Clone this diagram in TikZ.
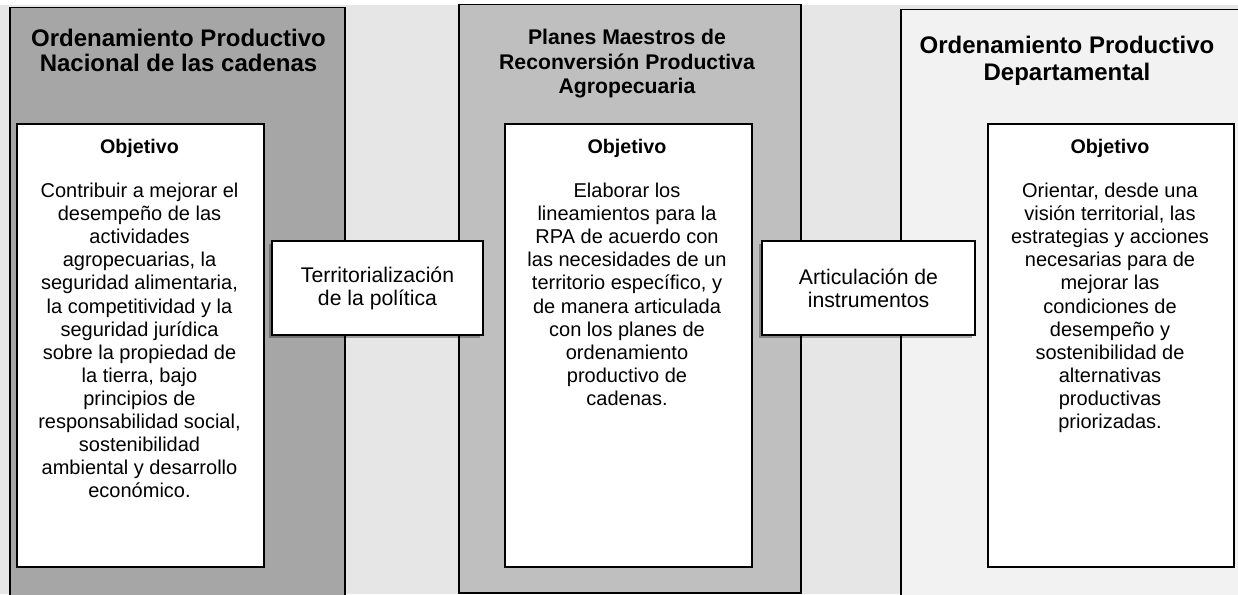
\documentclass[tikz,border=0pt]{standalone}
\usepackage{fontspec}
\setmainfont{Liberation Sans}
\usetikzlibrary{shadows}
\definecolor{bgc}{HTML}{E6E6E6}
\definecolor{pone}{HTML}{A6A6A6}
\definecolor{ptwo}{HTML}{BFBFBF}
\definecolor{pthree}{HTML}{F2F2F2}
\newcommand{\mlines}[1]{\begin{tabular}[t]{@{}c@{}}#1\end{tabular}}
\begin{document}
\begin{tikzpicture}[x=1pt,y=-1pt,
  panel/.style={draw=black, line width=1.5pt, anchor=north west, inner sep=0pt},
  whitebox/.style={draw=black, line width=1.5pt, fill=white, anchor=north west, inner sep=0pt, minimum width=247pt, minimum height=443pt},
  ptitle/.style={font=\bfseries\fontsize{24}{25}\selectfont, anchor=base, inner sep=0pt},
  objt/.style={font=\bfseries\fontsize{19.7}{23}\selectfont, anchor=base, inner sep=0pt},
  body/.style={font=\fontsize{20}{23.1}\selectfont, anchor=base, inner sep=0pt},
  linkbox/.style={draw=black, line width=1.5pt, fill=white, inner sep=0pt, minimum height=94pt,
     font=\fontsize{21.2}{23.1}\selectfont, align=center,
     drop shadow={shadow xshift=-3pt, shadow yshift=-3pt, fill=black, opacity=0.3}}
]
\useasboundingbox (0,0) rectangle (1238,594);
\clip (0,0) rectangle (1238,594);
\fill[white] (0,0) rectangle (1238,594);
\fill[bgc] (0,5) rectangle (1238,594);

% panels
\node[panel, fill=pone, minimum width=335pt, minimum height=620pt] (p1) at (9,7) {};
\node[panel, fill=ptwo, minimum width=342pt, minimum height=588pt] (p2) at (458,4) {};
\node[panel, fill=pthree, minimum width=360pt, minimum height=620pt] (p3) at (900,9) {};

% titles
\node[ptitle] (t1) at (178.5,46) {\mlines{Ordenamiento Productivo\\Nacional de las cadenas}};
\node[ptitle, font=\bfseries\fontsize{21.2}{24.5}\selectfont] (t2) at (627,45) {\mlines{Planes Maestros de\\Reconversión Productiva\\Agropecuaria}};
\node[ptitle, font=\bfseries\fontsize{24}{27}\selectfont] (t3) at (1067,53) {\mlines{Ordenamiento Productivo\\Departamental}};

% white boxes
\node[whitebox] (b1) at (16,123) {};
\node[whitebox] (b2) at (504,123) {};
\node[whitebox, minimum width=246pt] (b3) at (987,123) {};

\node[objt] (o1) at (139.5,153) {Objetivo};
\node[objt] (o2) at (627,153) {Objetivo};
\node[objt] (o3) at (1110,153) {Objetivo};

\node[body] (x1) at (139.5,197.5) {\mlines{Contribuir a mejorar el\\desempeño de las\\actividades\\agropecuarias, la\\seguridad alimentaria,\\la competitividad y la\\seguridad jurídica\\sobre la propiedad de\\la tierra, bajo\\principios de\\responsabilidad social,\\sostenibilidad\\ambiental y desarrollo\\económico.}};
\node[body] (x2) at (627,197.5) {\mlines{Elaborar los\\lineamientos para la\\RPA de acuerdo con\\las necesidades de un\\territorio específico, y\\de manera articulada\\con los planes de\\ordenamiento\\productivo de\\cadenas.}};
\node[body] (x3) at (1110,197.5) {\mlines{Orientar, desde una\\visión territorial, las\\estrategias y acciones\\necesarias para de\\mejorar las\\condiciones de\\desempeño y\\sostenibilidad de\\alternativas\\productivas\\priorizadas.}};

% link boxes
\node[linkbox, minimum width=211pt] (l1) at (377.5,288) {Territorialización\\de la política};
\node[linkbox, minimum width=213pt] (l2) at (868.5,288) {Articulación de\\instrumentos};
\end{tikzpicture}
\end{document}
